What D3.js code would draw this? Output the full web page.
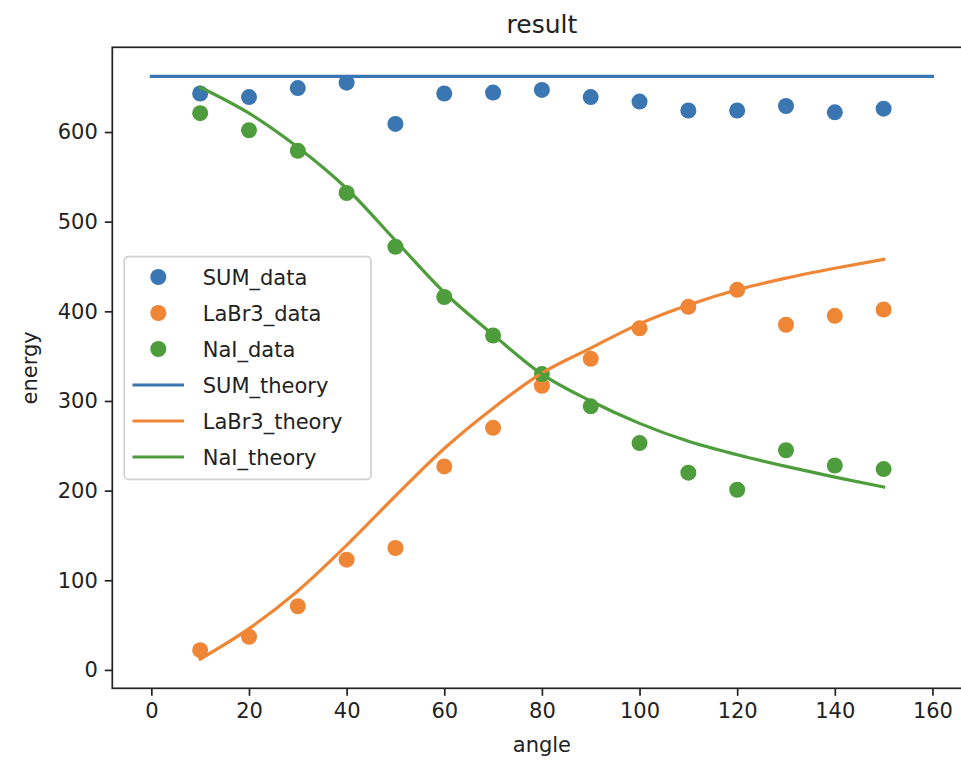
<!DOCTYPE html>
<html>
<head>
<meta charset="utf-8">
<script src="https://cdn.jsdelivr.net/npm/d3@7"></script>
<style>
  html, body { margin: 0; padding: 0; background: #fff; }
  svg { display: block; font-family: "DejaVu Sans", sans-serif; }
</style>
</head>
<body>
<svg id="chart" width="961" height="761"></svg>
<script>
// Scattering angles (degrees) at which energies were measured / computed
const angles = [10, 20, 30, 40, 50, 60, 70, 80, 90, 100, 110, 120, 130, 140, 150];

// Measured peak energies
const sumData   = [643, 639, 649, 655, 609, 643, 644, 647, 639, 634, 624, 624, 629, 622, 626];
const labr3Data = [22, 37, 71, 123, 136, 227, 270, 317, 347, 381, 405, 424, 385, 395, 402];
const naiData   = [621, 602, 579, 532, 472, 416, 373, 330, 294, 253, 220, 201, 245, 228, 224];

// Theoretical curves
const sumTheoryAngles = [0, 160];
const sumTheory       = [662, 662];
const labr3Theory = [12, 46, 88, 139, 194, 247, 292, 331, 359, 386, 407, 424, 437, 448, 458];
const naiTheory   = [650, 621, 583, 537, 479, 421, 374, 330, 300, 275, 255, 240, 227, 215, 204];

const xTicks = [0, 20, 40, 60, 80, 100, 120, 140, 160];
const yTicks = [0, 100, 200, 300, 400, 500, 600];

const colors = { sum: "#3a76b2", labr3: "#ef8636", nai: "#4e9d3c" };

const svg = d3.select("#chart");

const plot = { left: 112.3, right: 971.5, top: 47.3, bottom: 688.3 };

// Axis limits padded by 5% of the data span on each side
const xMin = 0, xMax = 160, xPad = (xMax - xMin) * 0.05;
const yMin = d3.min(labr3Theory), yMax = 662, yPad = (yMax - yMin) * 0.05;

const x = d3.scaleLinear().domain([xMin - xPad, xMax + xPad]).range([plot.left, plot.right]);
const y = d3.scaleLinear().domain([yMin - yPad, yMax + yPad]).range([plot.bottom, plot.top]);

// Axes
const fontPx = 21;
const xAxis = svg.append("g")
  .attr("transform", `translate(0,${plot.bottom})`)
  .call(d3.axisBottom(x).tickValues(xTicks).tickFormat(d3.format("d")).tickSizeOuter(0).tickSize(7.5).tickPadding(7));
const yAxis = svg.append("g")
  .attr("transform", `translate(${plot.left},0)`)
  .call(d3.axisLeft(y).tickValues(yTicks).tickFormat(d3.format("d")).tickSizeOuter(0).tickSize(7.5).tickPadding(7));

[xAxis, yAxis].forEach(g => {
  g.select(".domain").remove();
  g.selectAll(".tick line").attr("stroke", "#222").attr("stroke-width", 1.7);
  g.selectAll(".tick text").attr("fill", "#222").style("font-size", fontPx + "px")
    .style("font-family", "'DejaVu Sans', sans-serif");
});

// Frame
svg.append("rect")
  .attr("x", plot.left).attr("y", plot.top)
  .attr("width", plot.right - plot.left).attr("height", plot.bottom - plot.top)
  .attr("fill", "none").attr("stroke", "#222").attr("stroke-width", 1.7);

// Labels and title
svg.append("text").attr("x", (plot.left + plot.right) / 2).attr("y", 33)
  .attr("text-anchor", "middle").attr("fill", "#222").style("font-size", "25px").text("result");
svg.append("text").attr("x", (plot.left + plot.right) / 2).attr("y", 752)
  .attr("text-anchor", "middle").attr("fill", "#222").style("font-size", fontPx + "px").text("angle");
svg.append("text")
  .attr("transform", `translate(37,${(plot.top + plot.bottom) / 2}) rotate(-90)`)
  .attr("text-anchor", "middle").attr("fill", "#222").style("font-size", fontPx + "px").text("energy");

svg.append("clipPath").attr("id", "plotclip").append("rect")
  .attr("x", plot.left).attr("y", plot.top)
  .attr("width", plot.right - plot.left).attr("height", plot.bottom - plot.top);

const layer = svg.append("g").attr("clip-path", "url(#plotclip)");

// Scatter series
const scatterSeries = [
  { name: "SUM_data", values: sumData, color: colors.sum },
  { name: "LaBr3_data", values: labr3Data, color: colors.labr3 },
  { name: "NaI_data", values: naiData, color: colors.nai }
];
scatterSeries.forEach(s => {
  layer.append("g").selectAll("circle")
    .data(angles.map((a, i) => [a, s.values[i]]))
    .join("circle")
    .attr("cx", d => x(d[0])).attr("cy", d => y(d[1]))
    .attr("r", 8).attr("fill", s.color);
});

// Theory lines
const line = d3.line().x(d => x(d[0])).y(d => y(d[1])).curve(d3.curveMonotoneX);
const lineSeries = [
  { name: "SUM_theory", pts: sumTheoryAngles.map((a, i) => [a, sumTheory[i]]), color: colors.sum },
  { name: "LaBr3_theory", pts: angles.map((a, i) => [a, labr3Theory[i]]), color: colors.labr3 },
  { name: "NaI_theory", pts: angles.map((a, i) => [a, naiTheory[i]]), color: colors.nai }
];
lineSeries.forEach(s => {
  layer.append("path").datum(s.pts)
    .attr("d", line).attr("fill", "none")
    .attr("stroke", s.color).attr("stroke-width", 3.2).attr("stroke-linecap", "square");
});

// Legend
const legend = svg.append("g");
legend.append("rect")
  .attr("x", 124.3).attr("y", 256.7).attr("width", 246.7).attr("height", 222.6)
  .attr("rx", 4).attr("ry", 4)
  .attr("fill", "#fff").attr("fill-opacity", 0.8)
  .attr("stroke", "#d0d0d0").attr("stroke-width", 1.7);

const legendItems = [
  { label: "SUM_data", color: colors.sum, kind: "dot" },
  { label: "LaBr3_data", color: colors.labr3, kind: "dot" },
  { label: "NaI_data", color: colors.nai, kind: "dot" },
  { label: "SUM_theory", color: colors.sum, kind: "line" },
  { label: "LaBr3_theory", color: colors.labr3, kind: "line" },
  { label: "NaI_theory", color: colors.nai, kind: "line" }
];
legendItems.forEach((item, i) => {
  const cy = 277 + i * 36;
  if (item.kind === "dot") {
    legend.append("circle").attr("cx", 158.3).attr("cy", cy).attr("r", 8).attr("fill", item.color);
  } else {
    legend.append("line").attr("x1", 132.5).attr("x2", 184).attr("y1", cy).attr("y2", cy)
      .attr("stroke", item.color).attr("stroke-width", 3.2);
  }
  legend.append("text").attr("x", 202.7).attr("y", cy + 7.7)
    .attr("fill", "#222").style("font-size", fontPx + "px").text(item.label);
});
</script>
</body>
</html>
